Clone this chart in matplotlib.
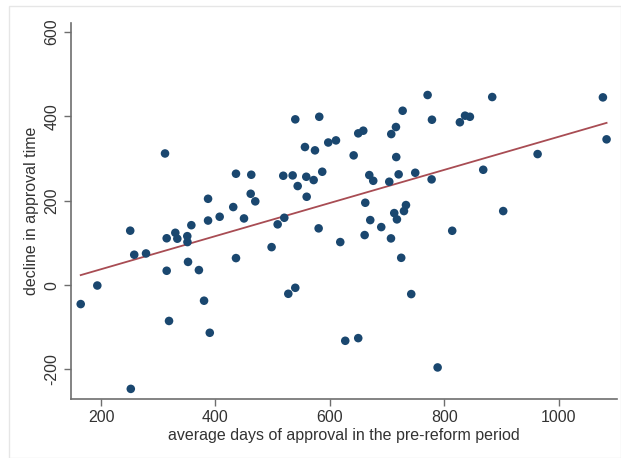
import numpy as np
import matplotlib
matplotlib.use("Agg")
import matplotlib.pyplot as plt
from matplotlib.patches import Rectangle

plt.rcParams["axes.unicode_minus"] = False

# pre-reform average days of approval (x) and decline in approval time (y)
pre_days = [164.5, 193.5, 251, 252, 258, 278.6, 311.8, 314.7, 314.7, 318.8,
            329.8, 333.3, 350.7, 351, 352, 357.8, 371, 380, 387, 387,
            390, 407.3, 431, 435.8, 435.8, 449.8, 461.5, 462.5, 469.5, 498,
            508.6, 518.4, 520.2, 527.2, 534.8, 539.4, 539.4, 543.6, 556.3, 558.6,
            559.3, 571.5, 573.8, 580.2, 581.3, 586.5, 597, 610.5, 618, 626.7,
            641.4, 649.4, 649.4, 658.2, 660.6, 661.7, 668.7, 670.4, 675.6, 689.6,
            703.6, 706.6, 707.1, 712.3, 715.3, 715.8, 717, 720, 724.5, 727,
            729.3, 732.8, 742, 749, 770.6, 777.6, 778.2, 788.1, 813.6, 827,
            836, 844.5, 867.8, 883.5, 902.7, 962.8, 1076.9, 1083.3]
decline = [-45, -1, 129, -246, 72, 75, 312, 111, 34, -85,
           124, 110, 116, 102, 55, 142, 35.6, -37, 204.6, 153,
           -113, 162, 185, 264, 64, 158, 216.5, 261.6, 198.5, 90,
           144, 259.2, 159.6, -20.6, 260, 392.9, -6.4, 234.8, 327.3, 256.8,
           209.4, 249, 319.4, 134.5, 399, 268.7, 338, 343, 102, -132,
           307.5, 359.7, -125.7, 366, 118.6, 195.2, 260.8, 154.1, 247.3, 137.5,
           245, 110.7, 358, 170.7, 374.7, 303.5, 155.8, 262.5, 64.7, 413.3,
           175.5, 189.7, -21.3, 266.3, 450.6, 250.6, 392, -195.2, 128.8, 386,
           401.6, 399, 273.4, 445.8, 175.5, 310.6, 445, 345.5]

x_ticks = [200, 400, 600, 800, 1000]
y_ticks = [-200, 0, 200, 400, 600]

x = np.array(pre_days)
y = np.array(decline)
slope, intercept = np.polyfit(x, y, 1)

fig = plt.figure(figsize=(6.21, 4.58), dpi=100)
fig.patches.append(Rectangle((9 / 621, 0), 1 - 9 / 621, 1 - 6 / 458, transform=fig.transFigure,
                             fill=False, edgecolor="#e6e6e6", linewidth=1.0))
ax = fig.add_axes([70.7 / 621, 1 - 399 / 458, (616.7 - 70.7) / 621, (399 - 22.7) / 458])

navy = "#1a476f"
maroon = "#a84c53"
axcol = "#6e6e6e"
txtcol = "#333333"
font = "Liberation Sans"

ax.scatter(x, y, s=38, color=navy, edgecolors="none", zorder=3)
xs = np.array([x.min(), x.max()])
ax.plot(xs, slope * xs + intercept, color=maroon, linewidth=1.3, zorder=2)

ax.set_xlim(147, 1101)
ax.set_ylim(-270, 622)
ax.set_xticks(x_ticks)
ax.set_yticks(y_ticks)
for s in ["top", "right"]:
    ax.spines[s].set_visible(False)
for s in ["left", "bottom"]:
    ax.spines[s].set_color(axcol)
    ax.spines[s].set_linewidth(1.2)
ax.tick_params(axis="both", colors=axcol, length=5, width=1.0, direction="out",
               labelcolor=txtcol, labelsize=11.5, pad=3)
for lab in ax.get_xticklabels() + ax.get_yticklabels():
    lab.set_fontfamily(font)
for lab in ax.get_yticklabels():
    lab.set_rotation(90)
    lab.set_va("center")

ax.set_xlabel("average days of approval in the pre-reform period", fontsize=11.5,
              color=txtcol, fontfamily=font, labelpad=2)
ax.set_ylabel("decline in approval time", fontsize=11.5, color=txtcol,
              fontfamily=font, labelpad=4)

fig.savefig("out.png", dpi=100)
